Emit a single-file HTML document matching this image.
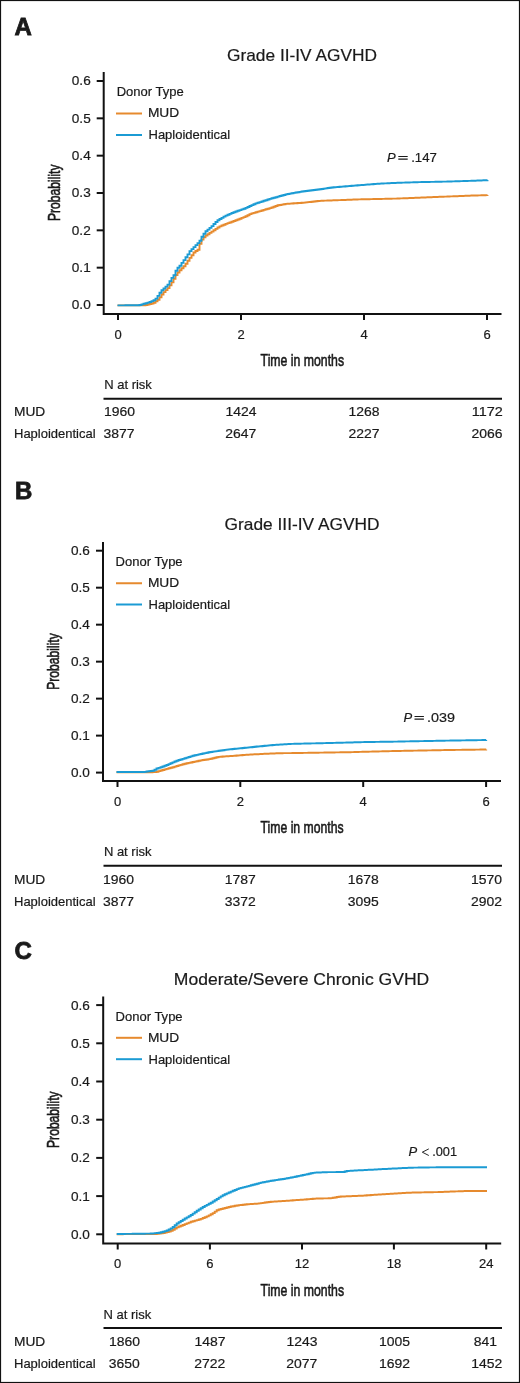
<!DOCTYPE html>
<html><head><meta charset="utf-8"><style>
html,body{margin:0;padding:0;background:#fff;}
body{width:520px;height:1383px;overflow:hidden;}
svg{display:block;will-change:transform;font-family:"Liberation Sans", sans-serif;}
text{fill:#1a1a1a;stroke:#1a1a1a;stroke-width:0.2;}
</style></head><body>
<svg width="520" height="1383" viewBox="0 0 520 1383">
<rect x="0.5" y="0.5" width="519" height="1382" fill="#fff" stroke="#111" stroke-width="1.2"/>
<text x="14.4" y="35" font-size="24" font-weight="bold" style="stroke-width:0.8">A</text>
<text x="227" y="60.7" font-size="17" textLength="150" lengthAdjust="spacingAndGlyphs">Grade II-IV AGVHD</text>
<path d="M103.7 72 V314 H501.5" fill="none" stroke="#111" stroke-width="2"/>
<path d="M96.7 305 H103.7" stroke="#111" stroke-width="2"/>
<text x="90.7" y="309.4" font-size="13" text-anchor="end" textLength="18.9" lengthAdjust="spacingAndGlyphs">0.0</text>
<path d="M96.7 267.67 H103.7" stroke="#111" stroke-width="2"/>
<text x="90.7" y="272.07" font-size="13" text-anchor="end" textLength="18.9" lengthAdjust="spacingAndGlyphs">0.1</text>
<path d="M96.7 230.33 H103.7" stroke="#111" stroke-width="2"/>
<text x="90.7" y="234.73" font-size="13" text-anchor="end" textLength="18.9" lengthAdjust="spacingAndGlyphs">0.2</text>
<path d="M96.7 193 H103.7" stroke="#111" stroke-width="2"/>
<text x="90.7" y="197.4" font-size="13" text-anchor="end" textLength="18.9" lengthAdjust="spacingAndGlyphs">0.3</text>
<path d="M96.7 155.67 H103.7" stroke="#111" stroke-width="2"/>
<text x="90.7" y="160.07" font-size="13" text-anchor="end" textLength="18.9" lengthAdjust="spacingAndGlyphs">0.4</text>
<path d="M96.7 118.33 H103.7" stroke="#111" stroke-width="2"/>
<text x="90.7" y="122.73" font-size="13" text-anchor="end" textLength="18.9" lengthAdjust="spacingAndGlyphs">0.5</text>
<path d="M96.7 81 H103.7" stroke="#111" stroke-width="2"/>
<text x="90.7" y="85.4" font-size="13" text-anchor="end" textLength="18.9" lengthAdjust="spacingAndGlyphs">0.6</text>
<path d="M118 314 V320" stroke="#111" stroke-width="2"/>
<text x="118" y="338.7" font-size="13" text-anchor="middle">0</text>
<path d="M241 314 V320" stroke="#111" stroke-width="2"/>
<text x="241" y="338.7" font-size="13" text-anchor="middle">2</text>
<path d="M364 314 V320" stroke="#111" stroke-width="2"/>
<text x="364" y="338.7" font-size="13" text-anchor="middle">4</text>
<path d="M487 314 V320" stroke="#111" stroke-width="2"/>
<text x="487" y="338.7" font-size="13" text-anchor="middle">6</text>
<text x="0" y="0" font-size="17.4" text-anchor="middle" textLength="56.5" lengthAdjust="spacingAndGlyphs" style="stroke-width:0.6" transform="translate(60 192.75) rotate(-90)">Probability</text>
<text x="260.6" y="365.8" font-size="16.8" textLength="83.5" lengthAdjust="spacingAndGlyphs" style="stroke-width:0.6">Time in months</text>
<text x="116.7" y="96" font-size="13" textLength="67" lengthAdjust="spacingAndGlyphs">Donor Type</text>
<path d="M116 113.5 H142" stroke="#e68a2e" stroke-width="2"/>
<text x="147.9" y="117.4" font-size="13" textLength="31.3" lengthAdjust="spacingAndGlyphs">MUD</text>
<path d="M116 135 H142" stroke="#1b9bd4" stroke-width="2"/>
<text x="148.5" y="138.6" font-size="13">Haploidentical</text>
<text x="387" y="161.5" font-size="13" font-style="italic">P</text>
<path d="M398.3 156.5 H407.7 M398.3 159.1 H407.7" stroke="#1a1a1a" stroke-width="1.15"/>
<text x="411.2" y="161.5" font-size="13" textLength="25.7" lengthAdjust="spacingAndGlyphs">.147</text>
<path d="M117.5 305.4 L119.5 305.4 L119.5 305.4 L121.5 305.4 L121.5 305.4 L123.5 305.4 L123.5 305.4 L125.5 305.4 L125.5 305.4 L127.5 305.4 L127.5 305.4 L129.5 305.4 L129.5 305.4 L131.5 305.4 L131.5 305.4 L133.5 305.4 L133.5 305.4 L135.5 305.4 L135.5 305.4 L137.5 305.4 L137.5 305.4 L139.5 305.4 L139.5 305.4 L141.5 305.4 L141.5 305.34 L143.5 305.34 L143.5 305.26 L145.5 305.26 L145.5 305.07 L147.5 305.07 L147.5 304.54 L149.5 304.54 L149.5 304.02 L151.5 304.02 L151.5 303.49 L153.5 303.49 L153.5 302.72 L155.5 302.72 L155.5 301.21 L157.5 301.21 L157.5 299.7 L159.5 299.7 L159.5 297.36 L161.5 297.36 L161.5 294.46 L163.5 294.46 L163.5 292.1 L165.5 292.1 L165.5 290.1 L167.5 290.1 L167.5 288.1 L169.5 288.1 L169.5 285.35 L171.5 285.35 L171.5 282.35 L173.5 282.35 L173.5 278.77 L175.5 278.77 L175.5 274.99 L177.5 274.99 L177.5 272.56 L179.5 272.56 L179.5 270.3 L181.5 270.3 L181.5 268.3 L183.5 268.3 L183.5 266.3 L185.5 266.3 L185.5 263.7 L187.5 263.7 L187.5 260.78 L189.5 260.78 L189.5 257.9 L191.5 257.9 L191.5 255.2 L193.5 255.2 L193.5 252.5 L195.5 252.5 L195.5 251.01 L197.5 251.01 L197.5 249.74 L199.5 249.74 L199.5 243.77 L201.5 243.77 L201.5 239.64 L203.5 239.64 L203.5 237.29 L205.5 237.29 L205.5 235.43 L207.5 235.43 L207.5 234.18 L209.5 234.18 L209.5 232.92 L211.5 232.92 L211.5 231.62 L213.5 231.62 L213.5 230.24 L215.5 230.24 L215.5 228.86 L217.5 228.86 L217.5 227.49 L219.5 227.49 L219.5 226.38 L221.5 226.38 L221.5 225.55 L223.5 225.55 L223.5 224.72 L225.5 224.72 L225.5 223.89 L227.5 223.89 L227.5 223.14 L229.5 223.14 L229.5 222.43 L231.5 222.43 L231.5 221.72 L233.5 221.72 L233.5 221.01 L235.5 221.01 L235.5 220.3 L237.5 220.3 L237.5 219.55 L239.5 219.55 L239.5 218.74 L241.5 218.74 L241.5 217.92 L243.5 217.92 L243.5 217.1 L245.5 217.1 L245.5 216.29 L247.5 216.29 L247.5 215.25 L249.5 215.25 L249.5 214.09 L251.5 214.09 L251.5 213.38 L253.5 213.38 L253.5 212.83 L255.5 212.83 L255.5 212.27 L257.5 212.27 L257.5 211.67 L259.5 211.67 L259.5 211.08 L261.5 211.08 L261.5 210.48 L263.5 210.48 L263.5 209.88 L265.5 209.88 L265.5 209.28 L267.5 209.28 L267.5 208.69 L269.5 208.69 L269.5 208.09 L271.5 208.09 L271.5 207.44 L273.5 207.44 L273.5 206.68 L275.5 206.68 L275.5 205.93 L277.5 205.93 L277.5 205.3 L279.5 205.3 L279.5 204.95 L281.5 204.95 L281.5 204.61 L283.5 204.61 L283.5 204.26 L285.5 204.26 L285.5 203.92 L287.5 203.92 L287.5 203.72 L289.5 203.72 L289.5 203.58 L291.5 203.58 L291.5 203.45 L293.5 203.45 L293.5 203.32 L295.5 203.32 L295.5 203.19 L297.5 203.19 L297.5 203.06 L299.5 203.06 L299.5 202.93 L301.5 202.93 L301.5 202.8 L303.5 202.8 L303.5 202.58 L305.5 202.58 L305.5 202.37 L307.5 202.37 L307.5 202.15 L309.5 202.15 L309.5 201.94 L311.5 201.94 L311.5 201.72 L313.5 201.72 L313.5 201.5 L315.5 201.5 L315.5 201.29 L317.5 201.29 L317.5 201.07 L319.5 201.07 L319.5 200.85 L321.5 200.85 L321.5 200.74 L323.5 200.74 L323.5 200.67 L325.5 200.67 L325.5 200.6 L327.5 200.6 L327.5 200.52 L329.5 200.52 L329.5 200.45 L331.5 200.45 L331.5 200.37 L333.5 200.37 L333.5 200.3 L335.5 200.3 L335.5 200.22 L337.5 200.22 L337.5 200.15 L339.5 200.15 L339.5 200.08 L341.5 200.08 L341.5 200 L343.5 200 L343.5 199.93 L345.5 199.93 L345.5 199.85 L347.5 199.85 L347.5 199.78 L349.5 199.78 L349.5 199.7 L351.5 199.7 L351.5 199.63 L353.5 199.63 L353.5 199.56 L355.5 199.56 L355.5 199.48 L357.5 199.48 L357.5 199.41 L359.5 199.41 L359.5 199.36 L361.5 199.36 L361.5 199.32 L363.5 199.32 L363.5 199.27 L365.5 199.27 L365.5 199.23 L367.5 199.23 L367.5 199.18 L369.5 199.18 L369.5 199.14 L371.5 199.14 L371.5 199.09 L373.5 199.09 L373.5 199.05 L375.5 199.05 L375.5 199.01 L377.5 199.01 L377.5 198.97 L379.5 198.97 L379.5 198.93 L381.5 198.93 L381.5 198.88 L383.5 198.88 L383.5 198.84 L385.5 198.84 L385.5 198.8 L387.5 198.8 L387.5 198.76 L389.5 198.76 L389.5 198.72 L391.5 198.72 L391.5 198.67 L393.5 198.67 L393.5 198.63 L395.5 198.63 L395.5 198.58 L397.5 198.58 L397.5 198.5 L399.5 198.5 L399.5 198.42 L401.5 198.42 L401.5 198.34 L403.5 198.34 L403.5 198.26 L405.5 198.26 L405.5 198.18 L407.5 198.18 L407.5 198.1 L409.5 198.1 L409.5 198.02 L411.5 198.02 L411.5 197.94 L413.5 197.94 L413.5 197.86 L415.5 197.86 L415.5 197.78 L417.5 197.78 L417.5 197.7 L419.5 197.7 L419.5 197.62 L421.5 197.62 L421.5 197.54 L423.5 197.54 L423.5 197.46 L425.5 197.46 L425.5 197.38 L427.5 197.38 L427.5 197.3 L429.5 197.3 L429.5 197.22 L431.5 197.22 L431.5 197.14 L433.5 197.14 L433.5 197.06 L435.5 197.06 L435.5 196.98 L437.5 196.98 L437.5 196.9 L439.5 196.9 L439.5 196.82 L441.5 196.82 L441.5 196.74 L443.5 196.74 L443.5 196.66 L445.5 196.66 L445.5 196.58 L447.5 196.58 L447.5 196.5 L449.5 196.5 L449.5 196.42 L451.5 196.42 L451.5 196.34 L453.5 196.34 L453.5 196.26 L455.5 196.26 L455.5 196.18 L457.5 196.18 L457.5 196.1 L459.5 196.1 L459.5 196.02 L461.5 196.02 L461.5 195.94 L463.5 195.94 L463.5 195.86 L465.5 195.86 L465.5 195.78 L467.5 195.78 L467.5 195.7 L469.5 195.7 L469.5 195.62 L471.5 195.62 L471.5 195.56 L473.5 195.56 L473.5 195.5 L475.5 195.5 L475.5 195.44 L477.5 195.44 L477.5 195.39 L479.5 195.39 L479.5 195.33 L481.5 195.33 L481.5 195.27 L483.5 195.27 L483.5 195.21 L485.5 195.21 L485.5 195.16 L487.5 195.16 L487.5 195.1" fill="none" stroke="#e68a2e" stroke-width="1.9" stroke-linejoin="miter"/>
<path d="M117.5 305.4 L119.5 305.4 L119.5 305.38 L121.5 305.38 L121.5 305.36 L123.5 305.36 L123.5 305.34 L125.5 305.34 L125.5 305.32 L127.5 305.32 L127.5 305.31 L129.5 305.31 L129.5 305.29 L131.5 305.29 L131.5 305.27 L133.5 305.27 L133.5 305.25 L135.5 305.25 L135.5 305.23 L137.5 305.23 L137.5 305.21 L139.5 305.21 L139.5 304.99 L141.5 304.99 L141.5 304.41 L143.5 304.41 L143.5 303.82 L145.5 303.82 L145.5 303.23 L147.5 303.23 L147.5 302.63 L149.5 302.63 L149.5 302.03 L151.5 302.03 L151.5 301.12 L153.5 301.12 L153.5 300.2 L155.5 300.2 L155.5 298.63 L157.5 298.63 L157.5 295.88 L159.5 295.88 L159.5 292.74 L161.5 292.74 L161.5 290.21 L163.5 290.21 L163.5 288.46 L165.5 288.46 L165.5 286.6 L167.5 286.6 L167.5 284.6 L169.5 284.6 L169.5 281.16 L171.5 281.16 L171.5 277.91 L173.5 277.91 L173.5 275.21 L175.5 275.21 L175.5 270.76 L177.5 270.76 L177.5 267.76 L179.5 267.76 L179.5 265.7 L181.5 265.7 L181.5 262.91 L183.5 262.91 L183.5 260.08 L185.5 260.08 L185.5 257.24 L187.5 257.24 L187.5 254.38 L189.5 254.38 L189.5 251.1 L191.5 251.1 L191.5 249.1 L193.5 249.1 L193.5 247.1 L195.5 247.1 L195.5 245.1 L197.5 245.1 L197.5 243.1 L199.5 243.1 L199.5 240.8 L201.5 240.8 L201.5 236.8 L203.5 236.8 L203.5 233.73 L205.5 233.73 L205.5 231.31 L207.5 231.31 L207.5 229.61 L209.5 229.61 L209.5 227.91 L211.5 227.91 L211.5 226.09 L213.5 226.09 L213.5 224.06 L215.5 224.06 L215.5 222.02 L217.5 222.02 L217.5 220.24 L219.5 220.24 L219.5 219.05 L221.5 219.05 L221.5 217.85 L223.5 217.85 L223.5 216.66 L225.5 216.66 L225.5 215.62 L227.5 215.62 L227.5 214.77 L229.5 214.77 L229.5 213.92 L231.5 213.92 L231.5 213.07 L233.5 213.07 L233.5 212.23 L235.5 212.23 L235.5 211.5 L237.5 211.5 L237.5 210.8 L239.5 210.8 L239.5 210.09 L241.5 210.09 L241.5 209.39 L243.5 209.39 L243.5 208.69 L245.5 208.69 L245.5 207.89 L247.5 207.89 L247.5 206.98 L249.5 206.98 L249.5 206.07 L251.5 206.07 L251.5 205.16 L253.5 205.16 L253.5 204.26 L255.5 204.26 L255.5 203.37 L257.5 203.37 L257.5 202.73 L259.5 202.73 L259.5 202.1 L261.5 202.1 L261.5 201.46 L263.5 201.46 L263.5 200.82 L265.5 200.82 L265.5 200.19 L267.5 200.19 L267.5 199.55 L269.5 199.55 L269.5 198.91 L271.5 198.91 L271.5 198.3 L273.5 198.3 L273.5 197.75 L275.5 197.75 L275.5 197.19 L277.5 197.19 L277.5 196.63 L279.5 196.63 L279.5 196.07 L281.5 196.07 L281.5 195.51 L283.5 195.51 L283.5 194.95 L285.5 194.95 L285.5 194.4 L287.5 194.4 L287.5 193.97 L289.5 193.97 L289.5 193.62 L291.5 193.62 L291.5 193.26 L293.5 193.26 L293.5 192.91 L295.5 192.91 L295.5 192.56 L297.5 192.56 L297.5 192.21 L299.5 192.21 L299.5 191.85 L301.5 191.85 L301.5 191.5 L303.5 191.5 L303.5 191.25 L305.5 191.25 L305.5 191 L307.5 191 L307.5 190.75 L309.5 190.75 L309.5 190.51 L311.5 190.51 L311.5 190.26 L313.5 190.26 L313.5 190.01 L315.5 190.01 L315.5 189.76 L317.5 189.76 L317.5 189.51 L319.5 189.51 L319.5 189.26 L321.5 189.26 L321.5 188.96 L323.5 188.96 L323.5 188.65 L325.5 188.65 L325.5 188.33 L327.5 188.33 L327.5 188.02 L329.5 188.02 L329.5 187.7 L331.5 187.7 L331.5 187.44 L333.5 187.44 L333.5 187.28 L335.5 187.28 L335.5 187.11 L337.5 187.11 L337.5 186.95 L339.5 186.95 L339.5 186.79 L341.5 186.79 L341.5 186.62 L343.5 186.62 L343.5 186.46 L345.5 186.46 L345.5 186.29 L347.5 186.29 L347.5 186.13 L349.5 186.13 L349.5 185.97 L351.5 185.97 L351.5 185.81 L353.5 185.81 L353.5 185.64 L355.5 185.64 L355.5 185.48 L357.5 185.48 L357.5 185.32 L359.5 185.32 L359.5 185.15 L361.5 185.15 L361.5 184.99 L363.5 184.99 L363.5 184.83 L365.5 184.83 L365.5 184.66 L367.5 184.66 L367.5 184.5 L369.5 184.5 L369.5 184.34 L371.5 184.34 L371.5 184.18 L373.5 184.18 L373.5 184.04 L375.5 184.04 L375.5 183.91 L377.5 183.91 L377.5 183.77 L379.5 183.77 L379.5 183.64 L381.5 183.64 L381.5 183.5 L383.5 183.5 L383.5 183.41 L385.5 183.41 L385.5 183.33 L387.5 183.33 L387.5 183.24 L389.5 183.24 L389.5 183.15 L391.5 183.15 L391.5 183.07 L393.5 183.07 L393.5 182.98 L395.5 182.98 L395.5 182.89 L397.5 182.89 L397.5 182.81 L399.5 182.81 L399.5 182.72 L401.5 182.72 L401.5 182.66 L403.5 182.66 L403.5 182.59 L405.5 182.59 L405.5 182.53 L407.5 182.53 L407.5 182.47 L409.5 182.47 L409.5 182.41 L411.5 182.41 L411.5 182.35 L413.5 182.35 L413.5 182.29 L415.5 182.29 L415.5 182.23 L417.5 182.23 L417.5 182.17 L419.5 182.17 L419.5 182.11 L421.5 182.11 L421.5 182.07 L423.5 182.07 L423.5 182.03 L425.5 182.03 L425.5 181.99 L427.5 181.99 L427.5 181.95 L429.5 181.95 L429.5 181.91 L431.5 181.91 L431.5 181.87 L433.5 181.87 L433.5 181.83 L435.5 181.83 L435.5 181.79 L437.5 181.79 L437.5 181.75 L439.5 181.75 L439.5 181.71 L441.5 181.71 L441.5 181.67 L443.5 181.67 L443.5 181.63 L445.5 181.63 L445.5 181.59 L447.5 181.59 L447.5 181.53 L449.5 181.53 L449.5 181.47 L451.5 181.47 L451.5 181.41 L453.5 181.41 L453.5 181.34 L455.5 181.34 L455.5 181.28 L457.5 181.28 L457.5 181.22 L459.5 181.22 L459.5 181.16 L461.5 181.16 L461.5 181.1 L463.5 181.1 L463.5 181.04 L465.5 181.04 L465.5 180.98 L467.5 180.98 L467.5 180.92 L469.5 180.92 L469.5 180.86 L471.5 180.86 L471.5 180.79 L473.5 180.79 L473.5 180.7 L475.5 180.7 L475.5 180.61 L477.5 180.61 L477.5 180.53 L479.5 180.53 L479.5 180.44 L481.5 180.44 L481.5 180.36 L483.5 180.36 L483.5 180.27 L485.5 180.27 L485.5 180.19 L487.5 180.19 L487.5 180.1" fill="none" stroke="#1b9bd4" stroke-width="1.9" stroke-linejoin="miter"/>
<text x="104.2" y="388.8" font-size="13">N at risk</text>
<path d="M103.5 398.7 H502" stroke="#111" stroke-width="2"/>
<text x="14" y="416.1" font-size="13" textLength="31.3" lengthAdjust="spacingAndGlyphs">MUD</text>
<text x="14" y="437.7" font-size="13" textLength="81.6" lengthAdjust="spacingAndGlyphs">Haploidentical</text>
<text x="119.4" y="416.1" font-size="13" text-anchor="middle" textLength="31" lengthAdjust="spacingAndGlyphs">1960</text>
<text x="241" y="416.1" font-size="13" text-anchor="middle" textLength="31" lengthAdjust="spacingAndGlyphs">1424</text>
<text x="364" y="416.1" font-size="13" text-anchor="middle" textLength="31" lengthAdjust="spacingAndGlyphs">1268</text>
<text x="487.2" y="416.1" font-size="13" text-anchor="middle" textLength="31" lengthAdjust="spacingAndGlyphs">1172</text>
<text x="118.9" y="437.7" font-size="13" text-anchor="middle" textLength="31" lengthAdjust="spacingAndGlyphs">3877</text>
<text x="240.7" y="437.7" font-size="13" text-anchor="middle" textLength="31" lengthAdjust="spacingAndGlyphs">2647</text>
<text x="364" y="437.7" font-size="13" text-anchor="middle" textLength="31" lengthAdjust="spacingAndGlyphs">2227</text>
<text x="487" y="437.7" font-size="13" text-anchor="middle" textLength="31" lengthAdjust="spacingAndGlyphs">2066</text>
<text x="14.9" y="498.7" font-size="24" font-weight="bold" style="stroke-width:0.8">B</text>
<text x="224.6" y="530.4" font-size="17" textLength="155" lengthAdjust="spacingAndGlyphs">Grade III-IV AGVHD</text>
<path d="M103 542 V781 H501" fill="none" stroke="#111" stroke-width="2"/>
<path d="M96 772.6 H103" stroke="#111" stroke-width="2"/>
<text x="89.8" y="777" font-size="13" text-anchor="end" textLength="18.9" lengthAdjust="spacingAndGlyphs">0.0</text>
<path d="M96 735.62 H103" stroke="#111" stroke-width="2"/>
<text x="89.8" y="740.02" font-size="13" text-anchor="end" textLength="18.9" lengthAdjust="spacingAndGlyphs">0.1</text>
<path d="M96 698.63 H103" stroke="#111" stroke-width="2"/>
<text x="89.8" y="703.03" font-size="13" text-anchor="end" textLength="18.9" lengthAdjust="spacingAndGlyphs">0.2</text>
<path d="M96 661.65 H103" stroke="#111" stroke-width="2"/>
<text x="89.8" y="666.05" font-size="13" text-anchor="end" textLength="18.9" lengthAdjust="spacingAndGlyphs">0.3</text>
<path d="M96 624.67 H103" stroke="#111" stroke-width="2"/>
<text x="89.8" y="629.07" font-size="13" text-anchor="end" textLength="18.9" lengthAdjust="spacingAndGlyphs">0.4</text>
<path d="M96 587.68 H103" stroke="#111" stroke-width="2"/>
<text x="89.8" y="592.08" font-size="13" text-anchor="end" textLength="18.9" lengthAdjust="spacingAndGlyphs">0.5</text>
<path d="M96 550.7 H103" stroke="#111" stroke-width="2"/>
<text x="89.8" y="555.1" font-size="13" text-anchor="end" textLength="18.9" lengthAdjust="spacingAndGlyphs">0.6</text>
<path d="M117.5 781 V787" stroke="#111" stroke-width="2"/>
<text x="117.5" y="805.8" font-size="13" text-anchor="middle">0</text>
<path d="M240.3 781 V787" stroke="#111" stroke-width="2"/>
<text x="240.3" y="805.8" font-size="13" text-anchor="middle">2</text>
<path d="M363.2 781 V787" stroke="#111" stroke-width="2"/>
<text x="363.2" y="805.8" font-size="13" text-anchor="middle">4</text>
<path d="M486.1 781 V787" stroke="#111" stroke-width="2"/>
<text x="486.1" y="805.8" font-size="13" text-anchor="middle">6</text>
<text x="0" y="0" font-size="17.4" text-anchor="middle" textLength="56.5" lengthAdjust="spacingAndGlyphs" style="stroke-width:0.6" transform="translate(59.4 661.5) rotate(-90)">Probability</text>
<text x="260.6" y="833.1" font-size="16.8" textLength="83" lengthAdjust="spacingAndGlyphs" style="stroke-width:0.6">Time in months</text>
<text x="115.6" y="566.3" font-size="13" textLength="67" lengthAdjust="spacingAndGlyphs">Donor Type</text>
<path d="M116 583.25 H142" stroke="#e68a2e" stroke-width="2"/>
<text x="147.9" y="587.3" font-size="13" textLength="31.3" lengthAdjust="spacingAndGlyphs">MUD</text>
<path d="M116 604.5 H142" stroke="#1b9bd4" stroke-width="2"/>
<text x="148.5" y="608.8" font-size="13">Haploidentical</text>
<text x="403.5" y="721.5" font-size="13" font-style="italic">P</text>
<path d="M414.5 716.5 H423.9 M414.5 719.1 H423.9" stroke="#1a1a1a" stroke-width="1.15"/>
<text x="426.9" y="721.5" font-size="13" textLength="28" lengthAdjust="spacingAndGlyphs">.039</text>
<path d="M116.5 772.2 L118.5 772.2 L118.5 772.21 L120.5 772.21 L120.5 772.21 L122.5 772.21 L122.5 772.22 L124.5 772.22 L124.5 772.23 L126.5 772.23 L126.5 772.24 L128.5 772.24 L128.5 772.24 L130.5 772.24 L130.5 772.25 L132.5 772.25 L132.5 772.26 L134.5 772.26 L134.5 772.27 L136.5 772.27 L136.5 772.27 L138.5 772.27 L138.5 772.28 L140.5 772.28 L140.5 772.29 L142.5 772.29 L142.5 772.3 L144.5 772.3 L144.5 772.28 L146.5 772.28 L146.5 772.25 L148.5 772.25 L148.5 772.22 L150.5 772.22 L150.5 772.18 L152.5 772.18 L152.5 772.15 L154.5 772.15 L154.5 772.12 L156.5 772.12 L156.5 771.76 L158.5 771.76 L158.5 771.15 L160.5 771.15 L160.5 770.55 L162.5 770.55 L162.5 769.94 L164.5 769.94 L164.5 769.36 L166.5 769.36 L166.5 768.83 L168.5 768.83 L168.5 768.31 L170.5 768.31 L170.5 767.78 L172.5 767.78 L172.5 767.19 L174.5 767.19 L174.5 766.58 L176.5 766.58 L176.5 765.98 L178.5 765.98 L178.5 765.42 L180.5 765.42 L180.5 764.87 L182.5 764.87 L182.5 764.32 L184.5 764.32 L184.5 763.77 L186.5 763.77 L186.5 763.24 L188.5 763.24 L188.5 762.85 L190.5 762.85 L190.5 762.45 L192.5 762.45 L192.5 762.06 L194.5 762.06 L194.5 761.65 L196.5 761.65 L196.5 761.24 L198.5 761.24 L198.5 760.82 L200.5 760.82 L200.5 760.41 L202.5 760.41 L202.5 760.05 L204.5 760.05 L204.5 759.74 L206.5 759.74 L206.5 759.44 L208.5 759.44 L208.5 759.13 L210.5 759.13 L210.5 758.77 L212.5 758.77 L212.5 758.25 L214.5 758.25 L214.5 757.73 L216.5 757.73 L216.5 757.21 L218.5 757.21 L218.5 756.84 L220.5 756.84 L220.5 756.7 L222.5 756.7 L222.5 756.56 L224.5 756.56 L224.5 756.41 L226.5 756.41 L226.5 756.27 L228.5 756.27 L228.5 756.13 L230.5 756.13 L230.5 755.99 L232.5 755.99 L232.5 755.84 L234.5 755.84 L234.5 755.69 L236.5 755.69 L236.5 755.54 L238.5 755.54 L238.5 755.38 L240.5 755.38 L240.5 755.22 L242.5 755.22 L242.5 755.07 L244.5 755.07 L244.5 754.91 L246.5 754.91 L246.5 754.76 L248.5 754.76 L248.5 754.6 L250.5 754.6 L250.5 754.5 L252.5 754.5 L252.5 754.39 L254.5 754.39 L254.5 754.29 L256.5 754.29 L256.5 754.18 L258.5 754.18 L258.5 754.08 L260.5 754.08 L260.5 753.97 L262.5 753.97 L262.5 753.87 L264.5 753.87 L264.5 753.77 L266.5 753.77 L266.5 753.69 L268.5 753.69 L268.5 753.62 L270.5 753.62 L270.5 753.54 L272.5 753.54 L272.5 753.46 L274.5 753.46 L274.5 753.38 L276.5 753.38 L276.5 753.31 L278.5 753.31 L278.5 753.23 L280.5 753.23 L280.5 753.19 L282.5 753.19 L282.5 753.17 L284.5 753.17 L284.5 753.15 L286.5 753.15 L286.5 753.13 L288.5 753.13 L288.5 753.11 L290.5 753.11 L290.5 753.09 L292.5 753.09 L292.5 753.06 L294.5 753.06 L294.5 753.03 L296.5 753.03 L296.5 753 L298.5 753 L298.5 752.97 L300.5 752.97 L300.5 752.94 L302.5 752.94 L302.5 752.91 L304.5 752.91 L304.5 752.87 L306.5 752.87 L306.5 752.84 L308.5 752.84 L308.5 752.81 L310.5 752.81 L310.5 752.78 L312.5 752.78 L312.5 752.75 L314.5 752.75 L314.5 752.72 L316.5 752.72 L316.5 752.69 L318.5 752.69 L318.5 752.66 L320.5 752.66 L320.5 752.62 L322.5 752.62 L322.5 752.59 L324.5 752.59 L324.5 752.56 L326.5 752.56 L326.5 752.53 L328.5 752.53 L328.5 752.5 L330.5 752.5 L330.5 752.47 L332.5 752.47 L332.5 752.44 L334.5 752.44 L334.5 752.41 L336.5 752.41 L336.5 752.37 L338.5 752.37 L338.5 752.34 L340.5 752.34 L340.5 752.31 L342.5 752.31 L342.5 752.28 L344.5 752.28 L344.5 752.25 L346.5 752.25 L346.5 752.22 L348.5 752.22 L348.5 752.18 L350.5 752.18 L350.5 752.13 L352.5 752.13 L352.5 752.08 L354.5 752.08 L354.5 752.02 L356.5 752.02 L356.5 751.97 L358.5 751.97 L358.5 751.92 L360.5 751.92 L360.5 751.87 L362.5 751.87 L362.5 751.82 L364.5 751.82 L364.5 751.76 L366.5 751.76 L366.5 751.71 L368.5 751.71 L368.5 751.66 L370.5 751.66 L370.5 751.61 L372.5 751.61 L372.5 751.56 L374.5 751.56 L374.5 751.5 L376.5 751.5 L376.5 751.45 L378.5 751.45 L378.5 751.4 L380.5 751.4 L380.5 751.35 L382.5 751.35 L382.5 751.3 L384.5 751.3 L384.5 751.24 L386.5 751.24 L386.5 751.19 L388.5 751.19 L388.5 751.14 L390.5 751.14 L390.5 751.09 L392.5 751.09 L392.5 751.05 L394.5 751.05 L394.5 751.01 L396.5 751.01 L396.5 750.98 L398.5 750.98 L398.5 750.94 L400.5 750.94 L400.5 750.9 L402.5 750.9 L402.5 750.86 L404.5 750.86 L404.5 750.82 L406.5 750.82 L406.5 750.79 L408.5 750.79 L408.5 750.75 L410.5 750.75 L410.5 750.71 L412.5 750.71 L412.5 750.67 L414.5 750.67 L414.5 750.63 L416.5 750.63 L416.5 750.59 L418.5 750.59 L418.5 750.56 L420.5 750.56 L420.5 750.52 L422.5 750.52 L422.5 750.48 L424.5 750.48 L424.5 750.44 L426.5 750.44 L426.5 750.4 L428.5 750.4 L428.5 750.37 L430.5 750.37 L430.5 750.33 L432.5 750.33 L432.5 750.29 L434.5 750.29 L434.5 750.25 L436.5 750.25 L436.5 750.21 L438.5 750.21 L438.5 750.18 L440.5 750.18 L440.5 750.14 L442.5 750.14 L442.5 750.1 L444.5 750.1 L444.5 750.06 L446.5 750.06 L446.5 750.02 L448.5 750.02 L448.5 749.99 L450.5 749.99 L450.5 749.96 L452.5 749.96 L452.5 749.94 L454.5 749.94 L454.5 749.91 L456.5 749.91 L456.5 749.89 L458.5 749.89 L458.5 749.86 L460.5 749.86 L460.5 749.83 L462.5 749.83 L462.5 749.81 L464.5 749.81 L464.5 749.78 L466.5 749.78 L466.5 749.76 L468.5 749.76 L468.5 749.73 L470.5 749.73 L470.5 749.7 L472.5 749.7 L472.5 749.68 L474.5 749.68 L474.5 749.65 L476.5 749.65 L476.5 749.63 L478.5 749.63 L478.5 749.6 L480.5 749.6 L480.5 749.57 L482.5 749.57 L482.5 749.55 L484.5 749.55 L484.5 749.52 L486.2 749.52 L486.2 749.5" fill="none" stroke="#e68a2e" stroke-width="1.9" stroke-linejoin="miter"/>
<path d="M116.5 772 L118.5 772 L118.5 772 L120.5 772 L120.5 772 L122.5 772 L122.5 772 L124.5 772 L124.5 772 L126.5 772 L126.5 772 L128.5 772 L128.5 772 L130.5 772 L130.5 772 L132.5 772 L132.5 772 L134.5 772 L134.5 772 L136.5 772 L136.5 772 L138.5 772 L138.5 772 L140.5 772 L140.5 772 L142.5 772 L142.5 772 L144.5 772 L144.5 771.85 L146.5 771.85 L146.5 771.56 L148.5 771.56 L148.5 771.27 L150.5 771.27 L150.5 770.98 L152.5 770.98 L152.5 770.69 L154.5 770.69 L154.5 769.8 L156.5 769.8 L156.5 768.54 L158.5 768.54 L158.5 767.88 L160.5 767.88 L160.5 767.22 L162.5 767.22 L162.5 766.56 L164.5 766.56 L164.5 765.81 L166.5 765.81 L166.5 764.95 L168.5 764.95 L168.5 764.09 L170.5 764.09 L170.5 763.23 L172.5 763.23 L172.5 762.4 L174.5 762.4 L174.5 761.57 L176.5 761.57 L176.5 760.75 L178.5 760.75 L178.5 760.07 L180.5 760.07 L180.5 759.45 L182.5 759.45 L182.5 758.84 L184.5 758.84 L184.5 758.22 L186.5 758.22 L186.5 757.61 L188.5 757.61 L188.5 757 L190.5 757 L190.5 756.4 L192.5 756.4 L192.5 755.79 L194.5 755.79 L194.5 755.25 L196.5 755.25 L196.5 754.83 L198.5 754.83 L198.5 754.4 L200.5 754.4 L200.5 753.97 L202.5 753.97 L202.5 753.55 L204.5 753.55 L204.5 753.12 L206.5 753.12 L206.5 752.71 L208.5 752.71 L208.5 752.31 L210.5 752.31 L210.5 751.93 L212.5 751.93 L212.5 751.65 L214.5 751.65 L214.5 751.37 L216.5 751.37 L216.5 751.09 L218.5 751.09 L218.5 750.81 L220.5 750.81 L220.5 750.52 L222.5 750.52 L222.5 750.18 L224.5 750.18 L224.5 749.85 L226.5 749.85 L226.5 749.59 L228.5 749.59 L228.5 749.4 L230.5 749.4 L230.5 749.2 L232.5 749.2 L232.5 749.01 L234.5 749.01 L234.5 748.81 L236.5 748.81 L236.5 748.62 L238.5 748.62 L238.5 748.42 L240.5 748.42 L240.5 748.23 L242.5 748.23 L242.5 748.02 L244.5 748.02 L244.5 747.82 L246.5 747.82 L246.5 747.61 L248.5 747.61 L248.5 747.4 L250.5 747.4 L250.5 747.19 L252.5 747.19 L252.5 746.98 L254.5 746.98 L254.5 746.78 L256.5 746.78 L256.5 746.57 L258.5 746.57 L258.5 746.37 L260.5 746.37 L260.5 746.18 L262.5 746.18 L262.5 745.98 L264.5 745.98 L264.5 745.79 L266.5 745.79 L266.5 745.59 L268.5 745.59 L268.5 745.39 L270.5 745.39 L270.5 745.2 L272.5 745.2 L272.5 745.04 L274.5 745.04 L274.5 744.91 L276.5 744.91 L276.5 744.78 L278.5 744.78 L278.5 744.65 L280.5 744.65 L280.5 744.52 L282.5 744.52 L282.5 744.39 L284.5 744.39 L284.5 744.26 L286.5 744.26 L286.5 744.13 L288.5 744.13 L288.5 744 L290.5 744 L290.5 743.89 L292.5 743.89 L292.5 743.84 L294.5 743.84 L294.5 743.79 L296.5 743.79 L296.5 743.75 L298.5 743.75 L298.5 743.7 L300.5 743.7 L300.5 743.65 L302.5 743.65 L302.5 743.61 L304.5 743.61 L304.5 743.56 L306.5 743.56 L306.5 743.51 L308.5 743.51 L308.5 743.47 L310.5 743.47 L310.5 743.42 L312.5 743.42 L312.5 743.37 L314.5 743.37 L314.5 743.33 L316.5 743.33 L316.5 743.28 L318.5 743.28 L318.5 743.23 L320.5 743.23 L320.5 743.19 L322.5 743.19 L322.5 743.14 L324.5 743.14 L324.5 743.09 L326.5 743.09 L326.5 743.05 L328.5 743.05 L328.5 743 L330.5 743 L330.5 742.95 L332.5 742.95 L332.5 742.9 L334.5 742.9 L334.5 742.84 L336.5 742.84 L336.5 742.79 L338.5 742.79 L338.5 742.74 L340.5 742.74 L340.5 742.69 L342.5 742.69 L342.5 742.64 L344.5 742.64 L344.5 742.58 L346.5 742.58 L346.5 742.53 L348.5 742.53 L348.5 742.48 L350.5 742.48 L350.5 742.43 L352.5 742.43 L352.5 742.38 L354.5 742.38 L354.5 742.32 L356.5 742.32 L356.5 742.27 L358.5 742.27 L358.5 742.22 L360.5 742.22 L360.5 742.17 L362.5 742.17 L362.5 742.11 L364.5 742.11 L364.5 742.06 L366.5 742.06 L366.5 742.01 L368.5 742.01 L368.5 741.98 L370.5 741.98 L370.5 741.95 L372.5 741.95 L372.5 741.93 L374.5 741.93 L374.5 741.9 L376.5 741.9 L376.5 741.88 L378.5 741.88 L378.5 741.85 L380.5 741.85 L380.5 741.82 L382.5 741.82 L382.5 741.8 L384.5 741.8 L384.5 741.77 L386.5 741.77 L386.5 741.75 L388.5 741.75 L388.5 741.72 L390.5 741.72 L390.5 741.69 L392.5 741.69 L392.5 741.65 L394.5 741.65 L394.5 741.61 L396.5 741.61 L396.5 741.58 L398.5 741.58 L398.5 741.54 L400.5 741.54 L400.5 741.5 L402.5 741.5 L402.5 741.46 L404.5 741.46 L404.5 741.42 L406.5 741.42 L406.5 741.39 L408.5 741.39 L408.5 741.35 L410.5 741.35 L410.5 741.31 L412.5 741.31 L412.5 741.27 L414.5 741.27 L414.5 741.23 L416.5 741.23 L416.5 741.19 L418.5 741.19 L418.5 741.16 L420.5 741.16 L420.5 741.12 L422.5 741.12 L422.5 741.08 L424.5 741.08 L424.5 741.04 L426.5 741.04 L426.5 741 L428.5 741 L428.5 740.97 L430.5 740.97 L430.5 740.93 L432.5 740.93 L432.5 740.89 L434.5 740.89 L434.5 740.85 L436.5 740.85 L436.5 740.81 L438.5 740.81 L438.5 740.78 L440.5 740.78 L440.5 740.74 L442.5 740.74 L442.5 740.7 L444.5 740.7 L444.5 740.66 L446.5 740.66 L446.5 740.62 L448.5 740.62 L448.5 740.59 L450.5 740.59 L450.5 740.56 L452.5 740.56 L452.5 740.53 L454.5 740.53 L454.5 740.49 L456.5 740.49 L456.5 740.46 L458.5 740.46 L458.5 740.43 L460.5 740.43 L460.5 740.4 L462.5 740.4 L462.5 740.37 L464.5 740.37 L464.5 740.34 L466.5 740.34 L466.5 740.31 L468.5 740.31 L468.5 740.28 L470.5 740.28 L470.5 740.24 L472.5 740.24 L472.5 740.21 L474.5 740.21 L474.5 740.18 L476.5 740.18 L476.5 740.15 L478.5 740.15 L478.5 740.12 L480.5 740.12 L480.5 740.09 L482.5 740.09 L482.5 740.06 L484.5 740.06 L484.5 740.03 L486.2 740.03 L486.2 740" fill="none" stroke="#1b9bd4" stroke-width="1.9" stroke-linejoin="miter"/>
<text x="103.9" y="856.2" font-size="13">N at risk</text>
<path d="M103.5 865.8 H502" stroke="#111" stroke-width="2"/>
<text x="14" y="884.1" font-size="13" textLength="31.3" lengthAdjust="spacingAndGlyphs">MUD</text>
<text x="14" y="905.6" font-size="13" textLength="81.6" lengthAdjust="spacingAndGlyphs">Haploidentical</text>
<text x="118.5" y="884.1" font-size="13" text-anchor="middle" textLength="31" lengthAdjust="spacingAndGlyphs">1960</text>
<text x="240.3" y="884.1" font-size="13" text-anchor="middle" textLength="31" lengthAdjust="spacingAndGlyphs">1787</text>
<text x="363.2" y="884.1" font-size="13" text-anchor="middle" textLength="31" lengthAdjust="spacingAndGlyphs">1678</text>
<text x="486.5" y="884.1" font-size="13" text-anchor="middle" textLength="31" lengthAdjust="spacingAndGlyphs">1570</text>
<text x="118.5" y="905.6" font-size="13" text-anchor="middle" textLength="31" lengthAdjust="spacingAndGlyphs">3877</text>
<text x="240.3" y="905.6" font-size="13" text-anchor="middle" textLength="31" lengthAdjust="spacingAndGlyphs">3372</text>
<text x="363.2" y="905.6" font-size="13" text-anchor="middle" textLength="31" lengthAdjust="spacingAndGlyphs">3095</text>
<text x="486.5" y="905.6" font-size="13" text-anchor="middle" textLength="31" lengthAdjust="spacingAndGlyphs">2902</text>
<text x="14.6" y="959.3" font-size="24" font-weight="bold" style="stroke-width:0.8">C</text>
<text x="173.8" y="985.2" font-size="17" textLength="255.5" lengthAdjust="spacingAndGlyphs">Moderate/Severe Chronic GVHD</text>
<path d="M103.2 996.5 V1243.5 H501.2" fill="none" stroke="#111" stroke-width="2"/>
<path d="M96.2 1234.3 H103.2" stroke="#111" stroke-width="2"/>
<text x="89.8" y="1238.7" font-size="13" text-anchor="end" textLength="18.9" lengthAdjust="spacingAndGlyphs">0.0</text>
<path d="M96.2 1196.1 H103.2" stroke="#111" stroke-width="2"/>
<text x="89.8" y="1200.5" font-size="13" text-anchor="end" textLength="18.9" lengthAdjust="spacingAndGlyphs">0.1</text>
<path d="M96.2 1157.9 H103.2" stroke="#111" stroke-width="2"/>
<text x="89.8" y="1162.3" font-size="13" text-anchor="end" textLength="18.9" lengthAdjust="spacingAndGlyphs">0.2</text>
<path d="M96.2 1119.7 H103.2" stroke="#111" stroke-width="2"/>
<text x="89.8" y="1124.1" font-size="13" text-anchor="end" textLength="18.9" lengthAdjust="spacingAndGlyphs">0.3</text>
<path d="M96.2 1081.5 H103.2" stroke="#111" stroke-width="2"/>
<text x="89.8" y="1085.9" font-size="13" text-anchor="end" textLength="18.9" lengthAdjust="spacingAndGlyphs">0.4</text>
<path d="M96.2 1043.3 H103.2" stroke="#111" stroke-width="2"/>
<text x="89.8" y="1047.7" font-size="13" text-anchor="end" textLength="18.9" lengthAdjust="spacingAndGlyphs">0.5</text>
<path d="M96.2 1005.1 H103.2" stroke="#111" stroke-width="2"/>
<text x="89.8" y="1009.5" font-size="13" text-anchor="end" textLength="18.9" lengthAdjust="spacingAndGlyphs">0.6</text>
<path d="M117.7 1243.5 V1249.5" stroke="#111" stroke-width="2"/>
<text x="117.7" y="1268.3" font-size="13" text-anchor="middle">0</text>
<path d="M209.9 1243.5 V1249.5" stroke="#111" stroke-width="2"/>
<text x="209.9" y="1268.3" font-size="13" text-anchor="middle">6</text>
<path d="M302 1243.5 V1249.5" stroke="#111" stroke-width="2"/>
<text x="302" y="1268.3" font-size="13" text-anchor="middle">12</text>
<path d="M393.9 1243.5 V1249.5" stroke="#111" stroke-width="2"/>
<text x="393.9" y="1268.3" font-size="13" text-anchor="middle">18</text>
<path d="M486.2 1243.5 V1249.5" stroke="#111" stroke-width="2"/>
<text x="486.2" y="1268.3" font-size="13" text-anchor="middle">24</text>
<text x="0" y="0" font-size="17.4" text-anchor="middle" textLength="56.5" lengthAdjust="spacingAndGlyphs" style="stroke-width:0.6" transform="translate(59.2 1119.7) rotate(-90)">Probability</text>
<text x="260.6" y="1295.7" font-size="16.8" textLength="83.5" lengthAdjust="spacingAndGlyphs" style="stroke-width:0.6">Time in months</text>
<text x="115.6" y="1020.75" font-size="13" textLength="67" lengthAdjust="spacingAndGlyphs">Donor Type</text>
<path d="M116 1037.8 H142" stroke="#e68a2e" stroke-width="2"/>
<text x="147.9" y="1041.9" font-size="13" textLength="31.3" lengthAdjust="spacingAndGlyphs">MUD</text>
<path d="M116 1059.2 H142" stroke="#1b9bd4" stroke-width="2"/>
<text x="148.5" y="1063.7" font-size="13">Haploidentical</text>
<text x="408.5" y="1156.2" font-size="13" font-style="italic">P</text>
<path d="M428.8 1148.9 L422.3 1152.2 L428.8 1155.5" fill="none" stroke="#1a1a1a" stroke-width="0.95"/>
<text x="432.2" y="1156.2" font-size="13" textLength="24.9" lengthAdjust="spacingAndGlyphs">.001</text>
<path d="M116.7 1234.2 L118.7 1234.2 L118.7 1234.19 L120.7 1234.19 L120.7 1234.18 L122.7 1234.18 L122.7 1234.17 L124.7 1234.17 L124.7 1234.16 L126.7 1234.16 L126.7 1234.15 L128.7 1234.15 L128.7 1234.14 L130.7 1234.14 L130.7 1234.13 L132.7 1234.13 L132.7 1234.12 L134.7 1234.12 L134.7 1234.11 L136.7 1234.11 L136.7 1234.1 L138.7 1234.1 L138.7 1234.09 L140.7 1234.09 L140.7 1234.07 L142.7 1234.07 L142.7 1234.06 L144.7 1234.06 L144.7 1234.05 L146.7 1234.05 L146.7 1234.04 L148.7 1234.04 L148.7 1234.03 L150.7 1234.03 L150.7 1234.02 L152.7 1234.02 L152.7 1234.01 L154.7 1234.01 L154.7 1234 L156.7 1234 L156.7 1233.8 L158.7 1233.8 L158.7 1233.56 L160.7 1233.56 L160.7 1233.33 L162.7 1233.33 L162.7 1233.09 L164.7 1233.09 L164.7 1232.66 L166.7 1232.66 L166.7 1232.09 L168.7 1232.09 L168.7 1231.53 L170.7 1231.53 L170.7 1230.82 L172.7 1230.82 L172.7 1229.68 L174.7 1229.68 L174.7 1228.55 L176.7 1228.55 L176.7 1227.41 L178.7 1227.41 L178.7 1226.57 L180.7 1226.57 L180.7 1225.77 L182.7 1225.77 L182.7 1224.96 L184.7 1224.96 L184.7 1224.16 L186.7 1224.16 L186.7 1223.37 L188.7 1223.37 L188.7 1222.58 L190.7 1222.58 L190.7 1221.81 L192.7 1221.81 L192.7 1221.24 L194.7 1221.24 L194.7 1220.66 L196.7 1220.66 L196.7 1220.09 L198.7 1220.09 L198.7 1219.52 L200.7 1219.52 L200.7 1218.84 L202.7 1218.84 L202.7 1218.03 L204.7 1218.03 L204.7 1217.23 L206.7 1217.23 L206.7 1216.39 L208.7 1216.39 L208.7 1215.34 L210.7 1215.34 L210.7 1214.29 L212.7 1214.29 L212.7 1213.1 L214.7 1213.1 L214.7 1211.66 L216.7 1211.66 L216.7 1210.23 L218.7 1210.23 L218.7 1209.45 L220.7 1209.45 L220.7 1208.94 L222.7 1208.94 L222.7 1208.44 L224.7 1208.44 L224.7 1207.93 L226.7 1207.93 L226.7 1207.43 L228.7 1207.43 L228.7 1206.93 L230.7 1206.93 L230.7 1206.55 L232.7 1206.55 L232.7 1206.19 L234.7 1206.19 L234.7 1205.82 L236.7 1205.82 L236.7 1205.46 L238.7 1205.46 L238.7 1205.14 L240.7 1205.14 L240.7 1204.93 L242.7 1204.93 L242.7 1204.72 L244.7 1204.72 L244.7 1204.51 L246.7 1204.51 L246.7 1204.3 L248.7 1204.3 L248.7 1204.09 L250.7 1204.09 L250.7 1203.94 L252.7 1203.94 L252.7 1203.83 L254.7 1203.83 L254.7 1203.72 L256.7 1203.72 L256.7 1203.62 L258.7 1203.62 L258.7 1203.37 L260.7 1203.37 L260.7 1203.1 L262.7 1203.1 L262.7 1202.83 L264.7 1202.83 L264.7 1202.57 L266.7 1202.57 L266.7 1202.3 L268.7 1202.3 L268.7 1202.03 L270.7 1202.03 L270.7 1201.78 L272.7 1201.78 L272.7 1201.65 L274.7 1201.65 L274.7 1201.52 L276.7 1201.52 L276.7 1201.39 L278.7 1201.39 L278.7 1201.26 L280.7 1201.26 L280.7 1201.13 L282.7 1201.13 L282.7 1201 L284.7 1201 L284.7 1200.87 L286.7 1200.87 L286.7 1200.74 L288.7 1200.74 L288.7 1200.59 L290.7 1200.59 L290.7 1200.45 L292.7 1200.45 L292.7 1200.31 L294.7 1200.31 L294.7 1200.16 L296.7 1200.16 L296.7 1200.02 L298.7 1200.02 L298.7 1199.88 L300.7 1199.88 L300.7 1199.74 L302.7 1199.74 L302.7 1199.58 L304.7 1199.58 L304.7 1199.43 L306.7 1199.43 L306.7 1199.27 L308.7 1199.27 L308.7 1199.11 L310.7 1199.11 L310.7 1198.95 L312.7 1198.95 L312.7 1198.8 L314.7 1198.8 L314.7 1198.64 L316.7 1198.64 L316.7 1198.5 L318.7 1198.5 L318.7 1198.47 L320.7 1198.47 L320.7 1198.44 L322.7 1198.44 L322.7 1198.41 L324.7 1198.41 L324.7 1198.38 L326.7 1198.38 L326.7 1198.35 L328.7 1198.35 L328.7 1198.32 L330.7 1198.32 L330.7 1198.17 L332.7 1198.17 L332.7 1197.8 L334.7 1197.8 L334.7 1197.43 L336.7 1197.43 L336.7 1197.06 L338.7 1197.06 L338.7 1196.69 L340.7 1196.69 L340.7 1196.54 L342.7 1196.54 L342.7 1196.45 L344.7 1196.45 L344.7 1196.37 L346.7 1196.37 L346.7 1196.29 L348.7 1196.29 L348.7 1196.2 L350.7 1196.2 L350.7 1196.12 L352.7 1196.12 L352.7 1196.04 L354.7 1196.04 L354.7 1195.95 L356.7 1195.95 L356.7 1195.87 L358.7 1195.87 L358.7 1195.79 L360.7 1195.79 L360.7 1195.7 L362.7 1195.7 L362.7 1195.58 L364.7 1195.58 L364.7 1195.45 L366.7 1195.45 L366.7 1195.32 L368.7 1195.32 L368.7 1195.18 L370.7 1195.18 L370.7 1195.05 L372.7 1195.05 L372.7 1194.92 L374.7 1194.92 L374.7 1194.79 L376.7 1194.79 L376.7 1194.66 L378.7 1194.66 L378.7 1194.53 L380.7 1194.53 L380.7 1194.4 L382.7 1194.4 L382.7 1194.27 L384.7 1194.27 L384.7 1194.15 L386.7 1194.15 L386.7 1194.02 L388.7 1194.02 L388.7 1193.9 L390.7 1193.9 L390.7 1193.78 L392.7 1193.78 L392.7 1193.66 L394.7 1193.66 L394.7 1193.53 L396.7 1193.53 L396.7 1193.41 L398.7 1193.41 L398.7 1193.29 L400.7 1193.29 L400.7 1193.17 L402.7 1193.17 L402.7 1193.05 L404.7 1193.05 L404.7 1192.92 L406.7 1192.92 L406.7 1192.8 L408.7 1192.8 L408.7 1192.68 L410.7 1192.68 L410.7 1192.59 L412.7 1192.59 L412.7 1192.55 L414.7 1192.55 L414.7 1192.51 L416.7 1192.51 L416.7 1192.47 L418.7 1192.47 L418.7 1192.44 L420.7 1192.44 L420.7 1192.4 L422.7 1192.4 L422.7 1192.36 L424.7 1192.36 L424.7 1192.32 L426.7 1192.32 L426.7 1192.28 L428.7 1192.28 L428.7 1192.25 L430.7 1192.25 L430.7 1192.21 L432.7 1192.21 L432.7 1192.17 L434.7 1192.17 L434.7 1192.13 L436.7 1192.13 L436.7 1192.09 L438.7 1192.09 L438.7 1192.02 L440.7 1192.02 L440.7 1191.94 L442.7 1191.94 L442.7 1191.86 L444.7 1191.86 L444.7 1191.79 L446.7 1191.79 L446.7 1191.71 L448.7 1191.71 L448.7 1191.64 L450.7 1191.64 L450.7 1191.56 L452.7 1191.56 L452.7 1191.48 L454.7 1191.48 L454.7 1191.41 L456.7 1191.41 L456.7 1191.33 L458.7 1191.33 L458.7 1191.26 L460.7 1191.26 L460.7 1191.18 L462.7 1191.18 L462.7 1191.1 L464.7 1191.1 L464.7 1191.03 L466.7 1191.03 L466.7 1191 L468.7 1191 L468.7 1191 L470.7 1191 L470.7 1191 L472.7 1191 L472.7 1191 L474.7 1191 L474.7 1191 L476.7 1191 L476.7 1191 L478.7 1191 L478.7 1191 L480.7 1191 L480.7 1191 L482.7 1191 L482.7 1191 L484.7 1191 L484.7 1191 L486.7 1191 L486.7 1191 L487 1191 L487 1191" fill="none" stroke="#e68a2e" stroke-width="1.9" stroke-linejoin="miter"/>
<path d="M116.7 1234 L118.7 1234 L118.7 1233.98 L120.7 1233.98 L120.7 1233.95 L122.7 1233.95 L122.7 1233.93 L124.7 1233.93 L124.7 1233.91 L126.7 1233.91 L126.7 1233.88 L128.7 1233.88 L128.7 1233.86 L130.7 1233.86 L130.7 1233.83 L132.7 1233.83 L132.7 1233.81 L134.7 1233.81 L134.7 1233.79 L136.7 1233.79 L136.7 1233.76 L138.7 1233.76 L138.7 1233.74 L140.7 1233.74 L140.7 1233.72 L142.7 1233.72 L142.7 1233.69 L144.7 1233.69 L144.7 1233.67 L146.7 1233.67 L146.7 1233.64 L148.7 1233.64 L148.7 1233.62 L150.7 1233.62 L150.7 1233.57 L152.7 1233.57 L152.7 1233.37 L154.7 1233.37 L154.7 1233.17 L156.7 1233.17 L156.7 1232.97 L158.7 1232.97 L158.7 1232.77 L160.7 1232.77 L160.7 1232.32 L162.7 1232.32 L162.7 1231.73 L164.7 1231.73 L164.7 1231.14 L166.7 1231.14 L166.7 1230.45 L168.7 1230.45 L168.7 1229.43 L170.7 1229.43 L170.7 1228.41 L172.7 1228.41 L172.7 1226.96 L174.7 1226.96 L174.7 1225.21 L176.7 1225.21 L176.7 1223.47 L178.7 1223.47 L178.7 1222.2 L180.7 1222.2 L180.7 1220.97 L182.7 1220.97 L182.7 1219.75 L184.7 1219.75 L184.7 1218.55 L186.7 1218.55 L186.7 1217.38 L188.7 1217.38 L188.7 1216.2 L190.7 1216.2 L190.7 1214.99 L192.7 1214.99 L192.7 1213.59 L194.7 1213.59 L194.7 1212.18 L196.7 1212.18 L196.7 1210.78 L198.7 1210.78 L198.7 1209.52 L200.7 1209.52 L200.7 1208.3 L202.7 1208.3 L202.7 1207.07 L204.7 1207.07 L204.7 1205.92 L206.7 1205.92 L206.7 1204.86 L208.7 1204.86 L208.7 1203.79 L210.7 1203.79 L210.7 1202.73 L212.7 1202.73 L212.7 1201.53 L214.7 1201.53 L214.7 1200.24 L216.7 1200.24 L216.7 1198.95 L218.7 1198.95 L218.7 1197.66 L220.7 1197.66 L220.7 1196.37 L222.7 1196.37 L222.7 1195.23 L224.7 1195.23 L224.7 1194.32 L226.7 1194.32 L226.7 1193.41 L228.7 1193.41 L228.7 1192.49 L230.7 1192.49 L230.7 1191.61 L232.7 1191.61 L232.7 1190.77 L234.7 1190.77 L234.7 1189.93 L236.7 1189.93 L236.7 1189.09 L238.7 1189.09 L238.7 1188.35 L240.7 1188.35 L240.7 1187.84 L242.7 1187.84 L242.7 1187.34 L244.7 1187.34 L244.7 1186.84 L246.7 1186.84 L246.7 1186.33 L248.7 1186.33 L248.7 1185.83 L250.7 1185.83 L250.7 1185.3 L252.7 1185.3 L252.7 1184.77 L254.7 1184.77 L254.7 1184.23 L256.7 1184.23 L256.7 1183.69 L258.7 1183.69 L258.7 1183.15 L260.7 1183.15 L260.7 1182.67 L262.7 1182.67 L262.7 1182.28 L264.7 1182.28 L264.7 1181.9 L266.7 1181.9 L266.7 1181.51 L268.7 1181.51 L268.7 1181.13 L270.7 1181.13 L270.7 1180.76 L272.7 1180.76 L272.7 1180.46 L274.7 1180.46 L274.7 1180.16 L276.7 1180.16 L276.7 1179.86 L278.7 1179.86 L278.7 1179.56 L280.7 1179.56 L280.7 1179.26 L282.7 1179.26 L282.7 1178.96 L284.7 1178.96 L284.7 1178.66 L286.7 1178.66 L286.7 1178.32 L288.7 1178.32 L288.7 1177.92 L290.7 1177.92 L290.7 1177.51 L292.7 1177.51 L292.7 1177.11 L294.7 1177.11 L294.7 1176.71 L296.7 1176.71 L296.7 1176.31 L298.7 1176.31 L298.7 1175.9 L300.7 1175.9 L300.7 1175.5 L302.7 1175.5 L302.7 1175.07 L304.7 1175.07 L304.7 1174.63 L306.7 1174.63 L306.7 1174.19 L308.7 1174.19 L308.7 1173.75 L310.7 1173.75 L310.7 1173.31 L312.7 1173.31 L312.7 1172.88 L314.7 1172.88 L314.7 1172.64 L316.7 1172.64 L316.7 1172.55 L318.7 1172.55 L318.7 1172.46 L320.7 1172.46 L320.7 1172.36 L322.7 1172.36 L322.7 1172.27 L324.7 1172.27 L324.7 1172.19 L326.7 1172.19 L326.7 1172.17 L328.7 1172.17 L328.7 1172.15 L330.7 1172.15 L330.7 1172.13 L332.7 1172.13 L332.7 1172.11 L334.7 1172.11 L334.7 1172.09 L336.7 1172.09 L336.7 1172.07 L338.7 1172.07 L338.7 1172.05 L340.7 1172.05 L340.7 1172.03 L342.7 1172.03 L342.7 1172.01 L344.7 1172.01 L344.7 1171.44 L346.7 1171.44 L346.7 1170.93 L348.7 1170.93 L348.7 1170.83 L350.7 1170.83 L350.7 1170.72 L352.7 1170.72 L352.7 1170.62 L354.7 1170.62 L354.7 1170.52 L356.7 1170.52 L356.7 1170.41 L358.7 1170.41 L358.7 1170.31 L360.7 1170.31 L360.7 1170.21 L362.7 1170.21 L362.7 1170.1 L364.7 1170.1 L364.7 1170 L366.7 1170 L366.7 1169.89 L368.7 1169.89 L368.7 1169.79 L370.7 1169.79 L370.7 1169.68 L372.7 1169.68 L372.7 1169.58 L374.7 1169.58 L374.7 1169.47 L376.7 1169.47 L376.7 1169.37 L378.7 1169.37 L378.7 1169.27 L380.7 1169.27 L380.7 1169.16 L382.7 1169.16 L382.7 1169.06 L384.7 1169.06 L384.7 1168.96 L386.7 1168.96 L386.7 1168.86 L388.7 1168.86 L388.7 1168.76 L390.7 1168.76 L390.7 1168.66 L392.7 1168.66 L392.7 1168.56 L394.7 1168.56 L394.7 1168.46 L396.7 1168.46 L396.7 1168.36 L398.7 1168.36 L398.7 1168.26 L400.7 1168.26 L400.7 1168.16 L402.7 1168.16 L402.7 1168.06 L404.7 1168.06 L404.7 1167.96 L406.7 1167.96 L406.7 1167.86 L408.7 1167.86 L408.7 1167.76 L410.7 1167.76 L410.7 1167.69 L412.7 1167.69 L412.7 1167.66 L414.7 1167.66 L414.7 1167.63 L416.7 1167.63 L416.7 1167.6 L418.7 1167.6 L418.7 1167.57 L420.7 1167.57 L420.7 1167.54 L422.7 1167.54 L422.7 1167.51 L424.7 1167.51 L424.7 1167.48 L426.7 1167.48 L426.7 1167.45 L428.7 1167.45 L428.7 1167.42 L430.7 1167.42 L430.7 1167.39 L432.7 1167.39 L432.7 1167.36 L434.7 1167.36 L434.7 1167.33 L436.7 1167.33 L436.7 1167.3 L438.7 1167.3 L438.7 1167.3 L440.7 1167.3 L440.7 1167.3 L442.7 1167.3 L442.7 1167.3 L444.7 1167.3 L444.7 1167.3 L446.7 1167.3 L446.7 1167.3 L448.7 1167.3 L448.7 1167.3 L450.7 1167.3 L450.7 1167.3 L452.7 1167.3 L452.7 1167.3 L454.7 1167.3 L454.7 1167.3 L456.7 1167.3 L456.7 1167.3 L458.7 1167.3 L458.7 1167.3 L460.7 1167.3 L460.7 1167.3 L462.7 1167.3 L462.7 1167.3 L464.7 1167.3 L464.7 1167.3 L466.7 1167.3 L466.7 1167.3 L468.7 1167.3 L468.7 1167.3 L470.7 1167.3 L470.7 1167.3 L472.7 1167.3 L472.7 1167.3 L474.7 1167.3 L474.7 1167.3 L476.7 1167.3 L476.7 1167.3 L478.7 1167.3 L478.7 1167.3 L480.7 1167.3 L480.7 1167.3 L482.7 1167.3 L482.7 1167.3 L484.7 1167.3 L484.7 1167.3 L486.7 1167.3 L486.7 1167.3 L487 1167.3 L487 1167.3" fill="none" stroke="#1b9bd4" stroke-width="1.9" stroke-linejoin="miter"/>
<text x="103.5" y="1318.5" font-size="13">N at risk</text>
<path d="M103.5 1328 H502" stroke="#111" stroke-width="2"/>
<text x="14" y="1346" font-size="13" textLength="31.3" lengthAdjust="spacingAndGlyphs">MUD</text>
<text x="14" y="1367.5" font-size="13" textLength="81.6" lengthAdjust="spacingAndGlyphs">Haploidentical</text>
<text x="124.5" y="1346" font-size="13" text-anchor="middle" textLength="31" lengthAdjust="spacingAndGlyphs">1860</text>
<text x="210" y="1346" font-size="13" text-anchor="middle" textLength="31" lengthAdjust="spacingAndGlyphs">1487</text>
<text x="302" y="1346" font-size="13" text-anchor="middle" textLength="31" lengthAdjust="spacingAndGlyphs">1243</text>
<text x="394.5" y="1346" font-size="13" text-anchor="middle" textLength="31" lengthAdjust="spacingAndGlyphs">1005</text>
<text x="485.4" y="1346" font-size="13" text-anchor="middle" textLength="23.25" lengthAdjust="spacingAndGlyphs">841</text>
<text x="124.2" y="1367.5" font-size="13" text-anchor="middle" textLength="31" lengthAdjust="spacingAndGlyphs">3650</text>
<text x="209.8" y="1367.5" font-size="13" text-anchor="middle" textLength="31" lengthAdjust="spacingAndGlyphs">2722</text>
<text x="301.7" y="1367.5" font-size="13" text-anchor="middle" textLength="31" lengthAdjust="spacingAndGlyphs">2077</text>
<text x="394.5" y="1367.5" font-size="13" text-anchor="middle" textLength="31" lengthAdjust="spacingAndGlyphs">1692</text>
<text x="486.7" y="1367.5" font-size="13" text-anchor="middle" textLength="31" lengthAdjust="spacingAndGlyphs">1452</text>
</svg>
</body></html>
